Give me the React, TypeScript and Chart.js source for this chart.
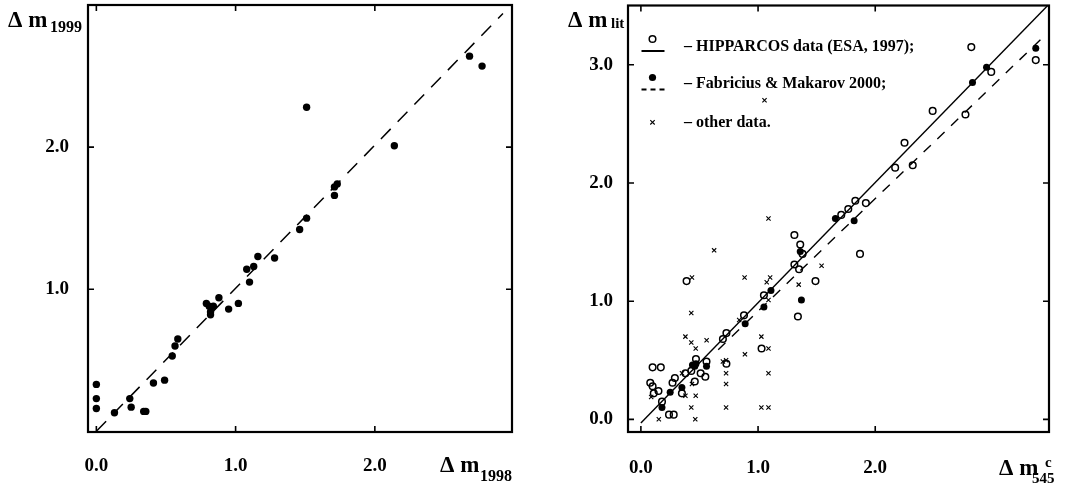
import React, { useEffect, useRef } from 'react';
import { Chart, registerables } from 'chart.js';

Chart.register(...registerables);

const SERIF = '"Liberation Serif", "Times New Roman", Times, serif';

// ---------- Left panel: Δm1998 vs Δm1999 ----------
const dm1998 = [0, 0, 0, 0.13, 0.24, 0.25, 0.34, 0.355, 0.41, 0.49, 0.545, 0.565, 0.585, 0.79, 0.81, 0.84, 0.82, 0.82, 0.88, 0.95, 1.02, 1.08, 1.1, 1.13, 1.16, 1.28, 1.46, 1.51, 1.51, 1.71, 1.71, 1.73, 2.14, 2.68, 2.77];
const dm1999 = [0.33, 0.23, 0.16, 0.13, 0.23, 0.17, 0.14, 0.14, 0.34, 0.36, 0.53, 0.6, 0.65, 0.9, 0.88, 0.88, 0.84, 0.82, 0.94, 0.86, 0.9, 1.14, 1.05, 1.16, 1.23, 1.22, 1.42, 1.5, 2.28, 1.66, 1.72, 1.74, 2.01, 2.64, 2.57];
const leftLineX = [0, 2.92];
const leftLineY = [0, 2.94];
const leftXTickLabels = ['0.0', '1.0', '2.0'];
const leftYTickLabels = ['1.0', '2.0'];

// ---------- Right panel: Δm545c vs Δm lit ----------
const hippX = [0.08, 0.1, 0.11, 0.1, 0.17, 0.15, 0.18, 0.24, 0.28, 0.27, 0.29, 0.35, 0.38, 0.39, 0.43, 0.46, 0.47, 0.51, 0.55, 0.56, 0.7, 0.73, 0.73, 0.88, 1.03, 1.05, 1.31, 1.31, 1.34, 1.35, 1.36, 1.38, 1.49, 1.71, 1.77, 1.83, 1.87, 1.92, 2.17, 2.25, 2.32, 2.49, 2.77, 2.82, 2.99, 3.37];
const hippY = [0.31, 0.28, 0.22, 0.44, 0.44, 0.24, 0.15, 0.04, 0.04, 0.31, 0.35, 0.22, 0.39, 1.17, 0.41, 0.32, 0.51, 0.39, 0.36, 0.49, 0.68, 0.73, 0.47, 0.88, 0.6, 1.05, 1.56, 1.31, 0.87, 1.27, 1.48, 1.4, 1.17, 1.73, 1.78, 1.85, 1.4, 1.83, 2.13, 2.34, 2.15, 2.61, 2.58, 3.15, 2.94, 3.04];
const fabX = [0.18, 0.25, 0.35, 0.44, 0.47, 0.46, 0.56, 0.89, 1.05, 1.11, 1.36, 1.37, 1.66, 1.82, 2.83, 2.95, 3.37];
const fabY = [0.1, 0.23, 0.27, 0.46, 0.47, 0.45, 0.45, 0.81, 0.95, 1.09, 1.42, 1.01, 1.7, 1.68, 2.85, 2.98, 3.14];
const otherX = [0.088, 0.153, 0.351, 0.38, 0.38, 0.436, 0.43, 0.43, 0.43, 0.436, 0.468, 0.468, 0.464, 0.561, 0.625, 0.7, 0.727, 0.727, 0.727, 0.727, 0.839, 0.885, 0.888, 1.028, 1.028, 1.055, 1.074, 1.089, 1.089, 1.089, 1.089, 1.089, 1.103, 1.347, 1.542];
const otherY = [0.19, 0.0, 0.39, 0.7, 0.2, 1.2, 0.9, 0.65, 0.1, 0.3, 0.6, 0.2, 0.0, 0.67, 1.43, 0.49, 0.5, 0.39, 0.3, 0.1, 0.84, 1.2, 0.55, 0.7, 0.1, 2.7, 1.16, 1.7, 1.01, 0.6, 0.39, 0.1, 1.2, 1.14, 1.3];
const hippFitX = [0, 3.47];
const hippFitY = [-0.03, 3.5];
const fabFitX = [0.66, 3.46];
const fabFitY = [0.59, 3.26];
const rightXTickLabels = ['0.0', '1.0', '2.0'];
const rightYTickLabels = ['0.0', '1.0', '2.0', '3.0'];
const legendLabels = ['– HIPPARCOS data (ESA, 1997);', '– Fabricius & Makarov 2000;', '– other data.'];

const pts = (xs: number[], ys: number[]) => xs.map((x, i) => ({ x, y: ys[i] }));
const TICK = 6;

const frameTicksPlugin = {
  id: 'frameTicks',
  afterDatasetsDraw(chart: any) {
    const { ctx, chartArea: a, scales } = chart;
    const xs = scales.x;
    const ys = scales.y;
    ctx.save();
    ctx.strokeStyle = '#000';
    ctx.lineWidth = 1.6;
    ctx.beginPath();
    xs.ticks.forEach((t: any) => {
      const p = xs.getPixelForValue(t.value);
      ctx.moveTo(p, a.bottom);
      ctx.lineTo(p, a.bottom - TICK);
      ctx.moveTo(p, a.top);
      ctx.lineTo(p, a.top + TICK);
    });
    ys.ticks.forEach((t: any) => {
      const p = ys.getPixelForValue(t.value);
      ctx.moveTo(a.left, p);
      ctx.lineTo(a.left + TICK, p);
      ctx.moveTo(a.right, p);
      ctx.lineTo(a.right - TICK, p);
    });
    ctx.stroke();
    ctx.lineWidth = 2.2;
    ctx.strokeRect(a.left, a.top, a.right - a.left, a.bottom - a.top);
    ctx.restore();
  },
};

type TextItem = { text: string; x: number; y: number; size: number };
const textPlugin = (items: TextItem[]) => ({
  id: 'axisTitles',
  afterDraw(chart: any) {
    const ctx = chart.ctx;
    ctx.save();
    ctx.fillStyle = '#000';
    ctx.textAlign = 'left';
    ctx.textBaseline = 'alphabetic';
    items.forEach((it) => {
      ctx.font = `bold ${it.size}px ${SERIF}`;
      ctx.fillText(it.text, it.x, it.y);
    });
    ctx.restore();
  },
});

const legendPlugin = {
  id: 'customLegend',
  afterDraw(chart: any) {
    const ctx = chart.ctx;
    const a = chart.chartArea;
    const sx = a.left + 24.5;
    ctx.save();
    ctx.strokeStyle = '#000';
    ctx.fillStyle = '#000';
    ctx.lineWidth = 1.5;
    ctx.beginPath();
    ctx.arc(sx, 39, 3.3, 0, Math.PI * 2);
    ctx.stroke();
    ctx.lineWidth = 2;
    ctx.beginPath();
    ctx.moveTo(sx - 11, 51);
    ctx.lineTo(sx + 12, 51);
    ctx.stroke();
    ctx.beginPath();
    ctx.arc(sx, 77.5, 3.6, 0, Math.PI * 2);
    ctx.fill();
    ctx.setLineDash([5, 4]);
    ctx.beginPath();
    ctx.moveTo(sx - 11, 89.5);
    ctx.lineTo(sx + 12, 89.5);
    ctx.stroke();
    ctx.setLineDash([]);
    ctx.lineWidth = 1.1;
    ctx.beginPath();
    ctx.moveTo(sx - 2.2, 120.1);
    ctx.lineTo(sx + 2.2, 124.5);
    ctx.moveTo(sx + 2.2, 120.1);
    ctx.lineTo(sx - 2.2, 124.5);
    ctx.stroke();
    ctx.font = `bold 16px ${SERIF}`;
    ctx.textAlign = 'left';
    ctx.textBaseline = 'middle';
    const tx = a.left + 56;
    ctx.fillText(legendLabels[0], tx, 47);
    ctx.fillText(legendLabels[1], tx, 84);
    ctx.fillText(legendLabels[2], tx, 122.5);
    ctx.restore();
  },
};

const tickCallback = (labels: string[]) => (v: any) => {
  const s = Number(v).toFixed(1);
  return labels.includes(s) && Math.abs(Number(v) * 2 - Math.round(Number(v) * 2)) < 1e-9 ? s : null;
};

function axisOpts(min: number, max: number, labels: string[], padding: number, isY: boolean, size: number) {
  return {
    type: 'linear' as const,
    min,
    max,
    grid: { display: false, drawTicks: false, drawOnChartArea: false },
    border: { display: false },
    ticks: {
      stepSize: 0.5,
      includeBounds: false,
      autoSkip: false,
      maxRotation: 0,
      padding,
      color: '#000',
      font: { family: SERIF, weight: 'bold' as const, size: 19 },
      callback: tickCallback(labels),
    },
    afterFit: (s: any) => {
      if (isY) s.width = size;
      else s.height = size;
      s.paddingTop = 0;
      s.paddingBottom = 0;
      s.paddingLeft = 0;
      s.paddingRight = 0;
    },
  };
}

export default function App() {
  const leftRef = useRef<HTMLCanvasElement>(null);
  const rightRef = useRef<HTMLCanvasElement>(null);

  useEffect(() => {
    const left = new Chart(leftRef.current!, {
      type: 'scatter',
      data: {
        datasets: [
          {
            label: 'Δm',
            data: pts(dm1998, dm1999),
            pointRadius: 3.7,
            pointBorderWidth: 0,
            backgroundColor: '#000',
            borderColor: '#000',
          },
          {
            label: 'fit',
            data: pts(leftLineX, leftLineY),
            showLine: true,
            pointRadius: 0,
            borderColor: '#000',
            borderWidth: 1.5,
            borderDash: [14, 10],
          },
        ],
      },
      options: {
        responsive: false,
        animation: false,
        events: [],
        layout: { padding: { top: 5, right: 21, left: 0, bottom: 0 } },
        plugins: { legend: { display: false }, tooltip: { enabled: false } },
        scales: {
          x: axisOpts(-0.06, 2.985, leftXTickLabels, 23, false, 51),
          y: axisOpts(-0.005, 3.0, leftYTickLabels, 19, true, 88),
        },
      },
      plugins: [
        frameTicksPlugin,
        textPlugin([
          { text: 'Δ m', x: 8, y: 27, size: 23 },
          { text: '1999', x: 50, y: 32, size: 16 },
          { text: 'Δ m', x: 440, y: 472, size: 23 },
          { text: '1998', x: 480, y: 481, size: 16 },
        ]),
      ],
    } as any);

    const right = new Chart(rightRef.current!, {
      type: 'scatter',
      data: {
        datasets: [
          {
            label: 'HIPPARCOS',
            data: pts(hippX, hippY),
            pointRadius: 3.3,
            pointBorderWidth: 1.5,
            backgroundColor: 'rgba(0,0,0,0)',
            borderColor: '#000',
          },
          {
            label: 'Fabricius',
            data: pts(fabX, fabY),
            pointRadius: 3.5,
            pointBorderWidth: 0,
            backgroundColor: '#000',
            borderColor: '#000',
          },
          {
            label: 'other',
            data: pts(otherX, otherY),
            pointStyle: 'crossRot',
            pointRadius: 3.0,
            pointBorderWidth: 1.1,
            borderColor: '#000',
          },
          {
            label: 'HIPPARCOS fit',
            data: pts(hippFitX, hippFitY),
            showLine: true,
            pointRadius: 0,
            borderColor: '#000',
            borderWidth: 1.4,
          },
          {
            label: 'Fabricius fit',
            data: pts(fabFitX, fabFitY),
            showLine: true,
            pointRadius: 0,
            borderColor: '#000',
            borderWidth: 1.4,
            borderDash: [10, 9],
          },
        ],
      },
      options: {
        responsive: false,
        animation: false,
        events: [],
        layout: { padding: { top: 5, right: 17, left: 0, bottom: 0 } },
        plugins: { legend: { display: false }, tooltip: { enabled: false } },
        scales: {
          x: axisOpts(-0.11, 3.483, rightXTickLabels, 25, false, 51),
          y: axisOpts(-0.107, 3.502, rightYTickLabels, 15, true, 95),
        },
      },
      plugins: [
        frameTicksPlugin,
        legendPlugin,
        textPlugin([
          { text: 'Δ m', x: 35, y: 27, size: 23 },
          { text: 'lit', x: 78, y: 28, size: 15 },
          { text: 'Δ m', x: 466, y: 475, size: 23 },
          { text: 'c', x: 512, y: 467, size: 15 },
          { text: '545', x: 499, y: 483, size: 15 },
        ]),
      ],
    } as any);

    return () => {
      left.destroy();
      right.destroy();
    };
  }, []);

  return (
    <div style={{ position: 'fixed', left: 0, top: 0, width: 1066, height: 483, background: '#fff' }}>
      <canvas ref={leftRef} width={533} height={483} style={{ position: 'absolute', left: 0, top: 0 }} />
      <canvas ref={rightRef} width={533} height={483} style={{ position: 'absolute', left: 533, top: 0 }} />
    </div>
  );
}
